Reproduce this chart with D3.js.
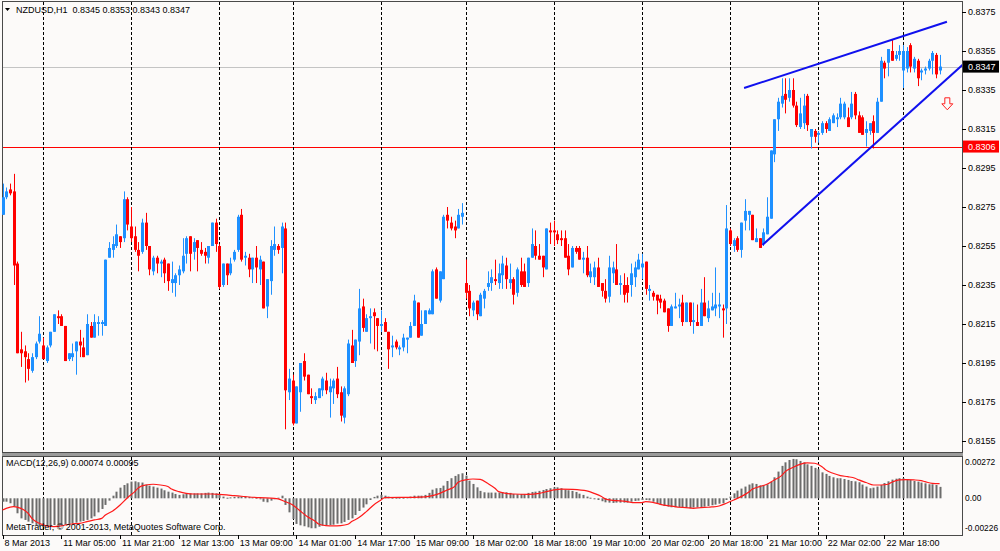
<!DOCTYPE html>
<html>
<head>
<meta charset="utf-8">
<script src="https://cdn.jsdelivr.net/npm/d3@7"></script>
<style>
  body { margin: 0; background: #fcfaf9; }
  svg { display: block; font-family: "Liberation Sans", Arial, sans-serif; font-size: 9px; }
</style>
</head>
<body>
<svg id="chart"></svg>
<script>
// hourly NZDUSD bars (bar 0 = 8 Mar 2013)
const opens = [
  0.8271,0.8280,0.8284,0.8283,0.8246,0.8202,0.8201,0.8197,0.8191,0.8198,
  0.8206,0.8204,0.8196,0.8204,0.8211,0.8219,0.8219,0.8214,0.8197,0.8198,
  0.8201,0.8206,0.8203,0.8199,0.8214,0.8208,0.8215,0.8215,0.8214,0.8249,
  0.8253,0.8255,0.8260,0.8259,0.8279,0.8265,0.8260,0.8253,0.8252,0.8267,
  0.8255,0.8242,0.8249,0.8246,0.8248,0.8246,0.8236,0.8236,0.8240,0.8242,
  0.8251,0.8260,0.8252,0.8258,0.8253,0.8252,0.8249,0.8255,0.8267,0.8255,
  0.8235,0.8246,0.8241,0.8248,0.8253,0.8271,0.8249,0.8249,0.8243,0.8249,
  0.8243,0.8247,0.8224,0.8237,0.8253,0.8255,0.8254,0.8264,0.8180,0.8186,
  0.8164,0.8180,0.8196,0.8189,0.8178,0.8176,0.8177,0.8181,0.8186,0.8180,
  0.8182,0.8187,0.8180,0.8167,0.8179,0.8204,0.8196,0.8206,0.8224,0.8211,
  0.8218,0.8221,0.8218,0.8214,0.8216,0.8211,0.8203,0.8206,0.8202,0.8203,
  0.8207,0.8208,0.8214,0.8226,0.8209,0.8215,0.8220,0.8220,0.8243,0.8227,
  0.8238,0.8271,0.8267,0.8265,0.8264,0.8270,0.8236,0.8232,0.8222,0.8227,
  0.8219,0.8228,0.8234,0.8236,0.8238,0.8236,0.8240,0.8245,0.8236,0.8238,
  0.8231,0.8242,0.8242,0.8236,0.8249,0.8255,0.8250,0.8250,0.8243,0.8263,
  0.8263,0.8261,0.8259,0.8259,0.8250,0.8244,0.8254,0.8254,0.8248,0.8249,
  0.8239,0.8239,0.8244,0.8236,0.8232,0.8229,0.8241,0.8243,0.8235,0.8235,
  0.8235,0.8235,0.8239,0.8243,0.8244,0.8247,0.8232,0.8231,0.8230,0.8228,
  0.8227,0.8223,0.8214,0.8223,0.8224,0.8226,0.8216,0.8226,0.8216,0.8216,
  0.8214,0.8226,0.8218,0.8222,0.8223,0.8224,0.8223,0.8223,0.8263,0.8255,
  0.8259,0.8253,0.8268,0.8271,0.8271,0.8257,0.8259,0.8256,0.8261,0.8269,
  0.8302,0.8320,0.8328,0.8333,0.8331,0.8335,0.8327,0.8316,0.8318,0.8332,
  0.8311,0.8314,0.8312,0.8313,0.8318,0.8314,0.8318,0.8320,0.8321,0.8321,
  0.8321,0.8321,0.8333,0.8322,0.8321,0.8313,0.8314,0.8319,0.8313,0.8329,
  0.8349,0.8349,0.8355,0.8351,0.8353,0.8345,0.8346,0.8358,0.8346,0.8350,
  0.8344,0.8345,0.8346,0.8350,0.8353,0.8345
];
const highs = [
  0.8287,0.8285,0.8287,0.8292,0.8247,0.8211,0.8204,0.8200,0.8200,0.8206,
  0.8219,0.8208,0.8204,0.8211,0.8220,0.8222,0.8220,0.8214,0.8200,0.8205,
  0.8206,0.8212,0.8208,0.8220,0.8216,0.8220,0.8219,0.8217,0.8248,0.8257,
  0.8260,0.8266,0.8260,0.8283,0.8280,0.8275,0.8265,0.8257,0.8269,0.8272,
  0.8255,0.8250,0.8250,0.8248,0.8249,0.8246,0.8247,0.8241,0.8245,0.8259,
  0.8260,0.8260,0.8259,0.8258,0.8257,0.8254,0.8255,0.8267,0.8269,0.8256,
  0.8246,0.8246,0.8249,0.8253,0.8271,0.8274,0.8252,0.8251,0.8249,0.8255,
  0.8250,0.8247,0.8238,0.8258,0.8265,0.8256,0.8267,0.8267,0.8192,0.8189,
  0.8183,0.8195,0.8200,0.8189,0.8182,0.8180,0.8182,0.8188,0.8190,0.8187,
  0.8187,0.8193,0.8183,0.8183,0.8207,0.8212,0.8207,0.8233,0.8228,0.8220,
  0.8223,0.8223,0.8218,0.8222,0.8218,0.8211,0.8209,0.8207,0.8204,0.8210,
  0.8208,0.8216,0.8230,0.8226,0.8222,0.8222,0.8223,0.8243,0.8244,0.8242,
  0.8271,0.8275,0.8270,0.8268,0.8274,0.8277,0.8248,0.8235,0.8227,0.8227,
  0.8231,0.8233,0.8242,0.8243,0.8248,0.8246,0.8250,0.8249,0.8246,0.8239,
  0.8244,0.8249,0.8246,0.8249,0.8264,0.8263,0.8256,0.8250,0.8264,0.8267,
  0.8268,0.8263,0.8263,0.8263,0.8256,0.8255,0.8255,0.8255,0.8252,0.8255,
  0.8246,0.8247,0.8249,0.8236,0.8238,0.8250,0.8247,0.8256,0.8240,0.8241,
  0.8239,0.8246,0.8247,0.8251,0.8251,0.8247,0.8235,0.8232,0.8230,0.8230,
  0.8228,0.8223,0.8225,0.8231,0.8228,0.8230,0.8226,0.8226,0.8226,0.8225,
  0.8233,0.8239,0.8227,0.8231,0.8244,0.8231,0.8225,0.8276,0.8264,0.8259,
  0.8260,0.8267,0.8279,0.8273,0.8271,0.8264,0.8259,0.8264,0.8280,0.8304,
  0.8320,0.8331,0.8341,0.8341,0.8341,0.8341,0.8329,0.8331,0.8333,0.8333,
  0.8315,0.8315,0.8314,0.8319,0.8319,0.8321,0.8323,0.8323,0.8331,0.8329,
  0.8326,0.8334,0.8334,0.8324,0.8322,0.8319,0.8318,0.8322,0.8331,0.8352,
  0.8350,0.8356,0.8361,0.8355,0.8358,0.8358,0.8357,0.8359,0.8352,0.8351,
  0.8346,0.8347,0.8351,0.8355,0.8354,0.8353
];
const lows = [
  0.8271,0.8279,0.8281,0.8235,0.8200,0.8193,0.8185,0.8186,0.8190,0.8197,
  0.8205,0.8197,0.8195,0.8203,0.8211,0.8215,0.8214,0.8196,0.8196,0.8196,
  0.8189,0.8198,0.8198,0.8199,0.8208,0.8208,0.8209,0.8209,0.8214,0.8249,
  0.8249,0.8254,0.8254,0.8257,0.8263,0.8257,0.8252,0.8242,0.8251,0.8253,
  0.8240,0.8240,0.8241,0.8239,0.8236,0.8232,0.8231,0.8229,0.8235,0.8241,
  0.8246,0.8242,0.8248,0.8242,0.8250,0.8246,0.8246,0.8255,0.8252,0.8233,
  0.8234,0.8235,0.8240,0.8247,0.8252,0.8247,0.8245,0.8239,0.8236,0.8236,
  0.8235,0.8223,0.8218,0.8230,0.8250,0.8251,0.8241,0.8161,0.8176,0.8163,
  0.8164,0.8170,0.8186,0.8179,0.8174,0.8174,0.8177,0.8178,0.8179,0.8167,
  0.8174,0.8177,0.8165,0.8164,0.8178,0.8195,0.8193,0.8199,0.8211,0.8211,
  0.8205,0.8202,0.8201,0.8211,0.8211,0.8192,0.8198,0.8202,0.8199,0.8201,
  0.8200,0.8208,0.8214,0.8208,0.8209,0.8215,0.8220,0.8220,0.8228,0.8226,
  0.8238,0.8264,0.8263,0.8259,0.8264,0.8266,0.8228,0.8219,0.8219,0.8217,
  0.8219,0.8223,0.8232,0.8232,0.8235,0.8233,0.8233,0.8233,0.8233,0.8225,
  0.8229,0.8234,0.8234,0.8234,0.8249,0.8248,0.8248,0.8239,0.8243,0.8256,
  0.8255,0.8256,0.8255,0.8249,0.8240,0.8244,0.8251,0.8248,0.8241,0.8239,
  0.8236,0.8235,0.8234,0.8229,0.8226,0.8226,0.8236,0.8235,0.8230,0.8226,
  0.8226,0.8229,0.8234,0.8243,0.8238,0.8230,0.8227,0.8227,0.8220,0.8223,
  0.8221,0.8211,0.8214,0.8223,0.8218,0.8214,0.8216,0.8214,0.8210,0.8214,
  0.8214,0.8219,0.8216,0.8222,0.8219,0.8218,0.8208,0.8215,0.8255,0.8252,
  0.8252,0.8249,0.8263,0.8263,0.8258,0.8257,0.8254,0.8255,0.8261,0.8269,
  0.8298,0.8314,0.8326,0.8323,0.8329,0.8326,0.8316,0.8315,0.8315,0.8314,
  0.8305,0.8308,0.8308,0.8312,0.8313,0.8314,0.8318,0.8316,0.8320,0.8320,
  0.8316,0.8320,0.8320,0.8313,0.8312,0.8306,0.8312,0.8305,0.8313,0.8329,
  0.8341,0.8342,0.8350,0.8350,0.8350,0.8336,0.8344,0.8344,0.8344,0.8337,
  0.8340,0.8343,0.8345,0.8343,0.8341,0.8343
];
const closes = [
  0.8280,0.8283,0.8282,0.8245,0.8200,0.8200,0.8198,0.8192,0.8198,0.8205,
  0.8210,0.8197,0.8203,0.8211,0.8220,0.8218,0.8214,0.8196,0.8200,0.8200,
  0.8206,0.8204,0.8198,0.8215,0.8208,0.8216,0.8216,0.8216,0.8248,0.8254,
  0.8256,0.8261,0.8257,0.8279,0.8266,0.8259,0.8253,0.8250,0.8267,0.8255,
  0.8243,0.8249,0.8246,0.8247,0.8241,0.8237,0.8238,0.8240,0.8243,0.8250,
  0.8259,0.8251,0.8257,0.8254,0.8251,0.8250,0.8255,0.8267,0.8256,0.8234,
  0.8246,0.8240,0.8246,0.8252,0.8270,0.8248,0.8250,0.8243,0.8249,0.8244,
  0.8248,0.8223,0.8238,0.8255,0.8256,0.8253,0.8265,0.8181,0.8187,0.8164,
  0.8183,0.8195,0.8188,0.8179,0.8177,0.8178,0.8182,0.8187,0.8181,0.8183,
  0.8186,0.8179,0.8168,0.8182,0.8205,0.8195,0.8207,0.8223,0.8213,0.8218,
  0.8219,0.8219,0.8214,0.8215,0.8211,0.8202,0.8204,0.8203,0.8203,0.8208,
  0.8208,0.8214,0.8227,0.8208,0.8215,0.8222,0.8222,0.8242,0.8228,0.8242,
  0.8270,0.8268,0.8264,0.8263,0.8271,0.8272,0.8231,0.8223,0.8226,0.8220,
  0.8230,0.8232,0.8236,0.8239,0.8237,0.8241,0.8246,0.8238,0.8238,0.8230,
  0.8243,0.8235,0.8234,0.8249,0.8256,0.8250,0.8248,0.8244,0.8264,0.8262,
  0.8262,0.8258,0.8258,0.8249,0.8243,0.8254,0.8252,0.8248,0.8249,0.8240,
  0.8242,0.8244,0.8234,0.8232,0.8228,0.8244,0.8244,0.8235,0.8236,0.8230,
  0.8231,0.8241,0.8244,0.8248,0.8246,0.8233,0.8233,0.8229,0.8227,0.8226,
  0.8221,0.8214,0.8224,0.8224,0.8225,0.8216,0.8226,0.8216,0.8217,0.8214,
  0.8226,0.8219,0.8223,0.8224,0.8225,0.8225,0.8222,0.8264,0.8256,0.8258,
  0.8253,0.8267,0.8273,0.8273,0.8258,0.8259,0.8254,0.8262,0.8270,0.8304,
  0.8320,0.8329,0.8332,0.8330,0.8335,0.8327,0.8317,0.8323,0.8327,0.8317,
  0.8315,0.8311,0.8313,0.8318,0.8315,0.8320,0.8322,0.8321,0.8328,0.8328,
  0.8316,0.8328,0.8322,0.8313,0.8312,0.8315,0.8318,0.8313,0.8329,0.8350,
  0.8346,0.8356,0.8350,0.8353,0.8355,0.8355,0.8355,0.8347,0.8351,0.8341,
  0.8345,0.8346,0.8350,0.8354,0.8343,0.8347
];

// MACD(12,26,9) main line (histogram) per bar
const macdMain = [
  -0.00022,-0.00022,-0.00032,-0.00054,-0.00097,-0.00130,-0.00140,-0.00151,-0.00162,-0.00173,
  -0.00184,-0.00184,-0.00181,-0.00175,-0.00173,-0.00173,-0.00173,-0.00171,-0.00166,-0.00162,
  -0.00158,-0.00151,-0.00147,-0.00140,-0.00130,-0.00117,-0.00091,-0.00069,-0.00043,-0.00015,
  0.00017,0.00043,0.00069,0.00086,0.00097,0.00108,0.00110,0.00104,0.00102,0.00089,
  0.00082,0.00076,0.00069,0.00063,0.00052,0.00043,0.00037,0.00028,0.00022,0.00026,
  0.00032,0.00032,0.00032,0.00032,0.00032,0.00035,0.00037,0.00035,0.00032,0.00026,
  0.00011,0.00004,0.00006,0.00009,0.00011,0.00011,0.00011,0.00009,0.00006,0.00004,
  -0.00004,-0.00022,-0.00026,-0.00015,-0.00004,0.00004,0.00017,-0.00043,-0.00091,-0.00134,
  -0.00166,-0.00175,-0.00181,-0.00188,-0.00194,-0.00194,-0.00184,-0.00177,-0.00173,-0.00173,
  -0.00171,-0.00164,-0.00162,-0.00153,-0.00140,-0.00130,-0.00108,-0.00082,-0.00060,-0.00039,
  -0.00011,0.00009,0.00017,0.00022,0.00017,0.00011,0.00004,0.00004,0.00004,0.00004,
  0.00006,0.00011,0.00017,0.00017,0.00017,0.00022,0.00035,0.00056,0.00065,0.00067,
  0.00082,0.00112,0.00130,0.00145,0.00156,0.00162,0.00147,0.00114,0.00093,0.00071,
  0.00048,0.00039,0.00037,0.00037,0.00037,0.00037,0.00039,0.00039,0.00035,0.00028,
  0.00026,0.00028,0.00028,0.00035,0.00041,0.00043,0.00048,0.00054,0.00060,0.00065,
  0.00071,0.00071,0.00065,0.00056,0.00052,0.00048,0.00041,0.00030,0.00022,0.00011,
  0.00004,-0.00002,-0.00011,-0.00019,-0.00026,-0.00028,-0.00030,-0.00028,-0.00028,-0.00028,
  -0.00028,-0.00022,-0.00017,-0.00015,-0.00011,-0.00011,-0.00013,-0.00022,-0.00032,-0.00041,
  -0.00050,-0.00054,-0.00058,-0.00058,-0.00058,-0.00060,-0.00063,-0.00065,-0.00060,-0.00058,
  -0.00056,-0.00054,-0.00050,-0.00045,-0.00041,-0.00035,-0.00032,-0.00011,0.00011,0.00032,
  0.00050,0.00063,0.00076,0.00089,0.00097,0.00093,0.00084,0.00086,0.00091,0.00106,
  0.00136,0.00173,0.00210,0.00233,0.00248,0.00255,0.00253,0.00242,0.00233,0.00220,
  0.00210,0.00197,0.00188,0.00168,0.00158,0.00145,0.00136,0.00130,0.00130,0.00125,
  0.00119,0.00112,0.00110,0.00104,0.00089,0.00076,0.00065,0.00069,0.00076,0.00086,
  0.00099,0.00110,0.00121,0.00127,0.00130,0.00130,0.00125,0.00119,0.00112,0.00108,
  0.00102,0.00097,0.00091,0.00091,0.00086,0.00074
];
// signal line, read at these bars
const signalBars = [
  0,1,3,5,7,8,10,12,14,16,17,19,21,23,25,27,28,30,32,34,36,37,39,41,43,45,46,48,50,52,
  54,57,59,61,63,66,70,74,75,77,79,81,83,85,86,88,90,92,94,95,97,99,101,103,104,108,
  112,115,117,119,121,123,124,126,128,130,132,134,135,137,139,143,146,148,150,152,155,
  159,161,163,164,166,168,170,172,174,175,177,179,181,183,184,186,188,190,192,193,195,
  197,199,201,203,204,206,208,210,212,213,215,217,219,221,223,224,226,228,230,232,233,
  235,237,239,241,242,244,246,248,250,251,253,255
];
const signalValues = [
  -0.00076,-0.00065,-0.00054,-0.00065,-0.00097,-0.00130,-0.00162,-0.00179,-0.00184,-0.00179,
  -0.00173,-0.00166,-0.00162,-0.00151,-0.00140,-0.00130,-0.00108,-0.00082,-0.00043,0.00004,
  0.00043,0.00069,0.00086,0.00091,0.00086,0.00076,0.00060,0.00043,0.00032,0.00028,
  0.00028,0.00028,0.00026,0.00022,0.00017,0.00011,0.00004,0.00000,-0.00004,-0.00022,
  -0.00043,-0.00082,-0.00119,-0.00147,-0.00166,-0.00177,-0.00179,-0.00177,-0.00168,-0.00151,
  -0.00125,-0.00086,-0.00043,-0.00011,0.00004,0.00006,0.00006,0.00009,0.00017,0.00032,
  0.00054,0.00076,0.00104,0.00119,0.00125,0.00123,0.00097,0.00065,0.00043,0.00032,
  0.00028,0.00026,0.00032,0.00043,0.00054,0.00060,0.00058,0.00048,0.00032,0.00011,
  -0.00004,-0.00013,-0.00017,-0.00022,-0.00028,-0.00028,-0.00022,-0.00026,-0.00039,-0.00048,
  -0.00054,-0.00058,-0.00060,-0.00065,-0.00060,-0.00058,-0.00056,-0.00050,-0.00032,-0.00011,
  0.00011,0.00039,0.00058,0.00076,0.00091,0.00119,0.00147,0.00173,0.00199,0.00220,
  0.00229,0.00227,0.00205,0.00184,0.00162,0.00147,0.00140,0.00130,0.00119,0.00102,
  0.00086,0.00086,0.00091,0.00104,0.00119,0.00121,0.00119,0.00114,0.00108,0.00097,
  0.00095
];

const timeLabels = ["8 Mar 2013","11 Mar 05:00","11 Mar 21:00","12 Mar 13:00","13 Mar 09:00",
  "14 Mar 01:00","14 Mar 17:00","15 Mar 09:00","18 Mar 02:00","18 Mar 18:00","19 Mar 10:00",
  "20 Mar 02:00","20 Mar 18:00","21 Mar 10:00","22 Mar 02:00","22 Mar 18:00"];
const timeLabelBars = [0,16,32,48,64,80,96,112,128,144,160,176,192,208,224,240];
const daySeparatorBars = [11,35,59,79,103,126,150,174,198,222,245];
const priceTicks = [0.8375,0.8355,0.8335,0.8315,0.8295,0.8275,0.8255,0.8235,0.8215,0.8195,0.8175,0.8155];
const macdTicks = [0.00272, 0, -0.00226];
const macdTickText = ["0.00272", "0.00", "-0.00226"];

const bidPrice = 0.8347;
const levelPrice = 0.8306;
// trend lines: [bar, price] pairs
const upperTrend = [[201.8, 0.8336], [257.0, 0.8370]];
const lowerTrend = [[206.8, 0.82555], [262.5, 0.8350]];
const arrowAt = [257.1, 0.8331];

const width = 1000;
const height = 551;
const plotLeft = 2;
const plotRight = 962;
const mainTop = 1;
const mainBottom = 452;
const macdTop = 456;
const macdBottom = 535;
const bg = "#fcfaf9";
const bullColor = "#1e90ff";
const bearColor = "#ff0000";

let svg = d3.select("#chart").attr("width", width).attr("height", height);

let xScale = d3.scaleLinear().domain([0, 255]).range([2.5, 939.6]);
let yScale = d3.scaleLinear().domain([0.8155, 0.8375]).range([441, 12]);
let macdScale = d3.scaleLinear().domain([-0.00226, 0.00272]).range([533.2, 456.3]);

let defs = svg.append("defs");
defs.append("clipPath").attr("id", "clipMain")
  .append("rect").attr("x", plotLeft).attr("y", mainTop)
  .attr("width", plotRight - plotLeft).attr("height", mainBottom - mainTop);
defs.append("clipPath").attr("id", "clipMacd")
  .append("rect").attr("x", plotLeft).attr("y", macdTop)
  .attr("width", plotRight - plotLeft).attr("height", macdBottom - macdTop);

svg.append("rect").attr("width", width).attr("height", height).attr("fill", bg);

let drawFrames = () => {
  svg.append("rect")
    .attr("x", plotLeft + 0.5).attr("y", mainTop + 0.5)
    .attr("width", plotRight - plotLeft).attr("height", mainBottom - mainTop)
    .attr("fill", "none").attr("stroke", "#4a4a4a");
  svg.append("rect")
    .attr("x", plotLeft).attr("y", mainBottom + 1)
    .attr("width", plotRight - plotLeft + 1).attr("height", macdTop - mainBottom - 1)
    .attr("fill", "#9a9a9a");
  svg.append("rect")
    .attr("x", plotLeft + 0.5).attr("y", macdTop + 0.5)
    .attr("width", plotRight - plotLeft).attr("height", macdBottom - macdTop)
    .attr("fill", "none").attr("stroke", "#4a4a4a");
};

let drawSeparators = () => {
  let sep = svg.append("g").attr("stroke", "#000").attr("stroke-dasharray", "3,2");
  [[mainTop + 1, mainBottom], [macdTop + 1, macdBottom]].forEach(([t, b]) => {
    sep.selectAll(null)
      .data(daySeparatorBars)
      .enter()
      .append("line")
      .attr("x1", (d) => Math.round(xScale(d)) + 0.5)
      .attr("x2", (d) => Math.round(xScale(d)) + 0.5)
      .attr("y1", t).attr("y2", b);
  });
};

let drawPriceLines = () => {
  let g = svg.append("g").attr("clip-path", "url(#clipMain)").attr("shape-rendering", "crispEdges");
  g.append("rect")
    .attr("x", plotLeft + 1).attr("width", plotRight - plotLeft - 1)
    .attr("y", Math.round(yScale(bidPrice))).attr("height", 1)
    .attr("fill", "#c4c4c4");
  g.append("rect")
    .attr("x", plotLeft + 1).attr("width", plotRight - plotLeft - 1)
    .attr("y", Math.round(yScale(levelPrice))).attr("height", 1)
    .attr("fill", "#ff0000");
};

let drawCandles = () => {
  let bars = d3.range(opens.length).map((i) => ({
    i: i, open: opens[i], high: highs[i], low: lows[i], close: closes[i]
  }));
  let g = svg.append("g").attr("clip-path", "url(#clipMain)");
  let c = g.selectAll("g.bar")
    .data(bars)
    .enter()
    .append("g")
    .attr("class", "bar");
  c.append("line")
    .attr("x1", (d) => Math.round(xScale(d.i)) + 0.5)
    .attr("x2", (d) => Math.round(xScale(d.i)) + 0.5)
    .attr("y1", (d) => yScale(d.high))
    .attr("y2", (d) => yScale(d.low))
    .attr("stroke", (d) => (d.close >= d.open ? bullColor : bearColor))
    .attr("stroke-width", 1);
  c.append("rect")
    .attr("x", (d) => Math.round(xScale(d.i)) - 1)
    .attr("width", 3)
    .attr("y", (d) => yScale(Math.max(d.open, d.close)))
    .attr("height", (d) => Math.max(1, Math.abs(yScale(d.open) - yScale(d.close))))
    .attr("fill", (d) => (d.close >= d.open ? bullColor : bearColor));
};

let drawTrendLines = () => {
  let g = svg.append("g").attr("clip-path", "url(#clipMain)");
  let line = d3.line().x((d) => xScale(d[0])).y((d) => yScale(d[1]));
  [upperTrend, lowerTrend].forEach((t) => {
    g.append("path")
      .attr("d", line(t))
      .attr("fill", "none")
      .attr("stroke", "#1010ee")
      .attr("stroke-width", 2);
  });
  // red hollow down arrow
  let ax = xScale(arrowAt[0]);
  let ay = yScale(arrowAt[1]);
  g.append("path")
    .attr("d", `M${ax - 2.5},${ay} h5 v6 h3 l-5.5,6 l-5.5,-6 h3 z`)
    .attr("fill", bg)
    .attr("stroke", "#ff2020")
    .attr("stroke-width", 1);
};

let drawMacd = () => {
  let g = svg.append("g").attr("clip-path", "url(#clipMacd)");
  g.selectAll("rect.hist")
    .data(macdMain)
    .enter()
    .append("rect")
    .attr("class", "hist")
    .attr("x", (d, i) => Math.round(xScale(i)) - 0.5)
    .attr("width", 2)
    .attr("y", (d) => Math.min(macdScale(d), macdScale(0)))
    .attr("height", (d) => Math.max(1, Math.abs(macdScale(d) - macdScale(0))))
    .attr("fill", "#6c6c6c");
  let signalLine = d3.line()
    .x((d, i) => xScale(signalBars[i]))
    .y((d) => macdScale(d))
    .curve(d3.curveMonotoneX);
  g.append("path")
    .attr("d", signalLine(signalValues))
    .attr("fill", "none")
    .attr("stroke", "#ff1a1a")
    .attr("stroke-width", 1.2);
};

let generateAxes = () => {
  // price axis on the right
  let py = svg.append("g");
  py.selectAll("line")
    .data(priceTicks)
    .enter()
    .append("line")
    .attr("x1", plotRight).attr("x2", plotRight + 4)
    .attr("y1", (d) => Math.round(yScale(d)) + 0.5)
    .attr("y2", (d) => Math.round(yScale(d)) + 0.5)
    .attr("stroke", "#000");
  py.selectAll("text")
    .data(priceTicks)
    .enter()
    .append("text")
    .attr("x", plotRight + 6)
    .attr("y", (d) => yScale(d))
    .attr("dy", "0.35em")
    .text((d) => d.toFixed(4));

  // price tags
  [[bidPrice, "#000"], [levelPrice, "#ff0000"]].forEach(([p, col]) => {
    svg.append("rect")
      .attr("x", plotRight + 1).attr("y", yScale(p) - 6)
      .attr("width", 36).attr("height", 12)
      .attr("fill", col);
    svg.append("text")
      .attr("x", plotRight + 6).attr("y", yScale(p))
      .attr("dy", "0.35em")
      .attr("fill", "#fff")
      .text(p.toFixed(4));
  });

  // MACD axis
  let my = svg.append("g").style("font-size", "8.4px");
  my.selectAll("text")
    .data(macdTicks)
    .enter()
    .append("text")
    .attr("x", plotRight + 3)
    .attr("y", (d, i) => macdScale(d) + (i === 0 ? 6 : i === 2 ? -5 : 0))
    .attr("dy", "0.35em")
    .text((d, i) => macdTickText[i]);

  // time axis
  let tx = svg.append("g");
  tx.selectAll("line")
    .data(timeLabelBars)
    .enter()
    .append("line")
    .attr("x1", (d) => Math.round(xScale(d)) + 0.5)
    .attr("x2", (d) => Math.round(xScale(d)) + 0.5)
    .attr("y1", macdBottom).attr("y2", macdBottom + 4)
    .attr("stroke", "#000");
  tx.selectAll("text")
    .data(timeLabelBars)
    .enter()
    .append("text")
    .attr("x", (d) => Math.max(1, xScale(d) + 2))
    .attr("y", macdBottom + 8)
    .attr("dy", "0.35em")
    .text((d, i) => timeLabels[i]);
};

let drawTitles = () => {
  svg.append("path").attr("d", "M5,8 h5 l-2.5,3 z").attr("fill", "#000");
  svg.append("text")
    .attr("x", 16).attr("y", 10).attr("dy", "0.35em")
    .attr("xml:space", "preserve")
    .text("NZDUSD,H1  0.8345 0.8353 0.8343 0.8347");
  svg.append("text")
    .attr("x", 6).attr("y", 463).attr("dy", "0.35em")
    .text("MACD(12,26,9) 0.00074 0.00095");
  svg.append("text")
    .attr("x", 6).attr("y", 527).attr("dy", "0.35em")
    .text("MetaTrader, \u00a9 2001-2013, MetaQuotes Software Corp.");
};

drawFrames();
drawPriceLines();
drawSeparators();
drawCandles();
drawTrendLines();
drawMacd();
generateAxes();
drawTitles();
</script>
</body>
</html>
